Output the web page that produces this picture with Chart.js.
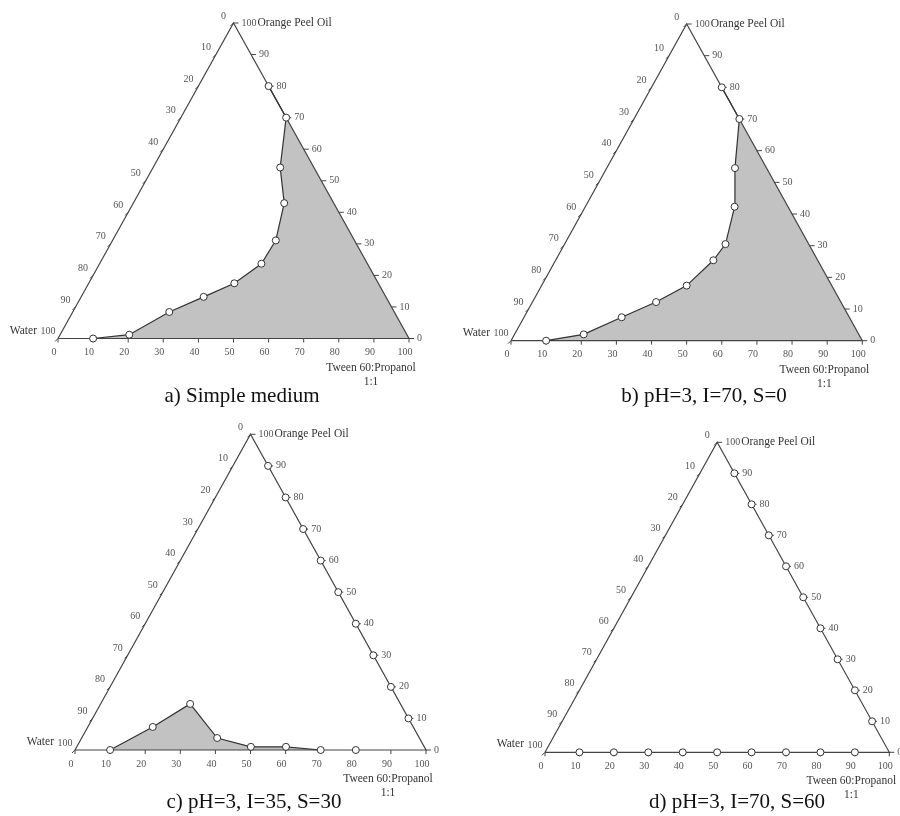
<!DOCTYPE html>
<html>
<head>
<meta charset="utf-8">
<title>Pseudo-ternary phase diagrams</title>
<script src="https://cdn.jsdelivr.net/npm/chart.js@4.4.1/dist/chart.umd.min.js"></script>
<style>
  body { margin: 0; background: #fff; }
  #wrap {
    position: relative;
    width: 900px;
    height: 816px;
    overflow: hidden;
    background: #fff;
    font-family: "Liberation Serif", "Times New Roman", serif;
  }
  .panel { position: absolute; }
  .caption {
    position: absolute;
    font-size: 21px;
    line-height: 21px;
    color: #111;
    white-space: nowrap;
    transform: translateX(-50%);
  }
</style>
</head>
<body>
<div id="wrap">
  <canvas id="chartA" class="panel" width="450" height="410" style="left:0;top:0;width:450px;height:410px"></canvas>
  <canvas id="chartB" class="panel" width="450" height="410" style="left:450px;top:0;width:450px;height:410px"></canvas>
  <canvas id="chartC" class="panel" width="450" height="406" style="left:0;top:410px;width:450px;height:406px"></canvas>
  <canvas id="chartD" class="panel" width="450" height="406" style="left:450px;top:410px;width:450px;height:406px"></canvas>

  <div class="caption" style="left:242px;top:385px">a) Simple medium</div>
  <div class="caption" style="left:704px;top:385px">b) pH=3, I=70, S=0</div>
  <div class="caption" style="left:254px;top:791px">c) pH=3, I=35, S=30</div>
  <div class="caption" style="left:737px;top:791px">d) pH=3, I=70, S=60</div>
</div>

<script>
// =========================
// DATA (% Tween 60:Propanol 1:1, % orange peel oil; water = the rest)
// =========================
const tickValues = [0, 10, 20, 30, 40, 50, 60, 70, 80, 90, 100];

// triangle corners: water, tween, oil, back to water
const cornerTween = [0, 100, 0, 0];
const cornerOil = [0, 0, 100, 0];

// a) simple medium - boundary points
const aTween = [10, 19.7, 27.5, 34.9, 41.5, 46.1, 46.5, 43, 36.2, 30, 20];
const aOil = [0, 1.2, 8.4, 13.2, 17.5, 23.7, 31.1, 42.9, 54.2, 70, 80];

// b) pH=3, I=70, S=0
const bTween = [10, 19.7, 27.8, 35.2, 41.3, 44.9, 45.8, 42.5, 36.5, 30, 20];
const bOil = [0, 2.0, 7.4, 12.2, 17.4, 25.4, 30.5, 42.3, 54.5, 70, 80];

// c) pH=3, I=35, S=30
const cTween = [10, 18.5, 25.5, 38.6, 49.6, 59.6, 70];
const cOil = [0, 7.3, 14.6, 3.8, 1, 1, 0];
const cOtherTween = [80, 90, 80, 70, 60, 50, 40, 30, 20, 10];
const cOtherOil = [0, 10, 20, 30, 40, 50, 60, 70, 80, 90];

// d) pH=3, I=70, S=60 - only the edge points
const dTween = [10, 20, 30, 40, 50, 60, 70, 80, 90, 90, 80, 70, 60, 50, 40, 30, 20, 10];
const dOil = [0, 0, 0, 0, 0, 0, 0, 0, 0, 10, 20, 30, 40, 50, 60, 70, 80, 90];

// =========================
// HELPERS
// =========================
// ternary -> plain x/y (x along the base, y = height towards the oil corner)
function toXY(tween, oil) {
  return tween.map((t, i) => ({ x: t + oil[i] / 2, y: oil[i] }));
}

const serif = "'Liberation Serif', 'Times New Roman', serif";

// ternary frame: shading, ticks and labels along the three edges
const ternaryPlugin = {
  id: "ternary",
  beforeDatasetsDraw(chart) {
    const ctx = chart.ctx;

    // shaded region
    chart.data.datasets.forEach((ds, i) => {
      if (!ds.shade) return;
      const pts = chart.getDatasetMeta(i).data;
      ctx.save();
      ctx.beginPath();
      pts.forEach((p, j) => (j ? ctx.lineTo(p.x, p.y) : ctx.moveTo(p.x, p.y)));
      ctx.closePath();
      ctx.fillStyle = ds.shade;
      ctx.fill();
      ctx.restore();
    });

    const sx = chart.scales.x;
    const sy = chart.scales.y;
    const at = (tween, oil) => ({
      x: sx.getPixelForValue(tween + oil / 2),
      y: sy.getPixelForValue(oil)
    });

    ctx.save();
    ctx.strokeStyle = "#444";
    ctx.lineWidth = 1;
    ctx.fillStyle = "#555";
    ctx.font = "10px " + serif;
    ctx.textBaseline = "middle";

    const tick = (x1, y1, x2, y2) => {
      ctx.beginPath();
      ctx.moveTo(x1, y1);
      ctx.lineTo(x2, y2);
      ctx.stroke();
    };

    tickValues.forEach(v => {
      // base: Tween 60:Propanol
      let p = at(v, 0);
      tick(p.x, p.y, p.x, p.y + 4);
      ctx.textAlign = "center";
      ctx.fillText(String(v), p.x - 4, p.y + 14);

      // right edge: orange peel oil
      p = at(100 - v, v);
      tick(p.x, p.y, p.x + 5, p.y);
      ctx.textAlign = "left";
      ctx.fillText(String(v), p.x + 8, p.y);

      // left edge: water
      p = at(0, 100 - v);
      tick(p.x, p.y, p.x - 3, p.y + 3);
      ctx.textAlign = "center";
      ctx.fillText(String(v), p.x - 10, p.y - 7);
    });
    ctx.restore();
  },
  afterDatasetsDraw(chart) {
    const ctx = chart.ctx;
    const sx = chart.scales.x;
    const sy = chart.scales.y;
    const top = { x: sx.getPixelForValue(50), y: sy.getPixelForValue(100) };
    const left = { x: sx.getPixelForValue(0), y: sy.getPixelForValue(0) };
    const right = { x: sx.getPixelForValue(100), y: sy.getPixelForValue(0) };

    ctx.save();
    ctx.fillStyle = "#333";
    ctx.font = "11.5px " + serif;
    ctx.textBaseline = "middle";

    ctx.textAlign = "left";
    ctx.fillText("Orange Peel Oil", top.x + 24, top.y);

    ctx.textAlign = "right";
    ctx.fillText("Water", left.x - 21, left.y - 8);

    ctx.textAlign = "center";
    ctx.fillText("Tween 60:Propanol", right.x - 38, right.y + 29);
    ctx.fillText("1:1", right.x - 38, right.y + 43);
    ctx.restore();
  }
};

// =========================
// CHARTS
// =========================
const markerStyle = {
  showLine: false,
  pointRadius: 3.5,
  pointBackgroundColor: "#fff",
  pointBorderColor: "#333",
  pointBorderWidth: 1,
  clip: false
};

function frameDataset() {
  return {
    data: toXY(cornerTween, cornerOil),
    showLine: true,
    borderColor: "#444",
    borderWidth: 1.2,
    pointRadius: 0,
    clip: false
  };
}

function curveDataset(tween, oil) {
  return Object.assign({}, markerStyle, {
    data: toXY(tween, oil),
    showLine: true,
    borderColor: "#333",
    borderWidth: 1.2
  });
}

function shadeDataset(tween, oil) {
  return {
    data: toXY(tween, oil),
    shade: "#c2c2c2",
    showLine: false,
    pointRadius: 0,
    clip: false
  };
}

function makeChart(canvasId, datasets, pad) {
  return new Chart(document.getElementById(canvasId), {
    type: "scatter",
    data: { datasets },
    options: {
      responsive: false,
      animation: false,
      events: [],
      layout: { padding: pad },
      scales: {
        x: { type: "linear", min: 0, max: 100, display: false },
        y: { type: "linear", min: 0, max: 100, display: false }
      },
      plugins: {
        legend: { display: false },
        tooltip: { enabled: false }
      }
    },
    plugins: [ternaryPlugin]
  });
}

// first dataset is drawn on top, so markers come first and the frame last
makeChart("chartA", [
  curveDataset(aTween, aOil),
  frameDataset(),
  shadeDataset(aTween.concat([100]), aOil.concat([0]))
], { left: 58, right: 41, top: 23, bottom: 71.5 });

makeChart("chartB", [
  curveDataset(bTween, bOil),
  frameDataset(),
  shadeDataset(bTween.concat([100]), bOil.concat([0]))
], { left: 61, right: 37.7, top: 24, bottom: 69.3 });

makeChart("chartC", [
  curveDataset(cTween, cOil),
  Object.assign({}, markerStyle, { data: toXY(cOtherTween, cOtherOil) }),
  frameDataset(),
  shadeDataset(cTween, cOil)
], { left: 75, right: 24, top: 24.3, bottom: 66 });

makeChart("chartD", [
  Object.assign({}, markerStyle, { data: toXY(dTween, dOil) }),
  frameDataset()
], { left: 95, right: 10.7, top: 32.3, bottom: 63.7 });
</script>
</body>
</html>
